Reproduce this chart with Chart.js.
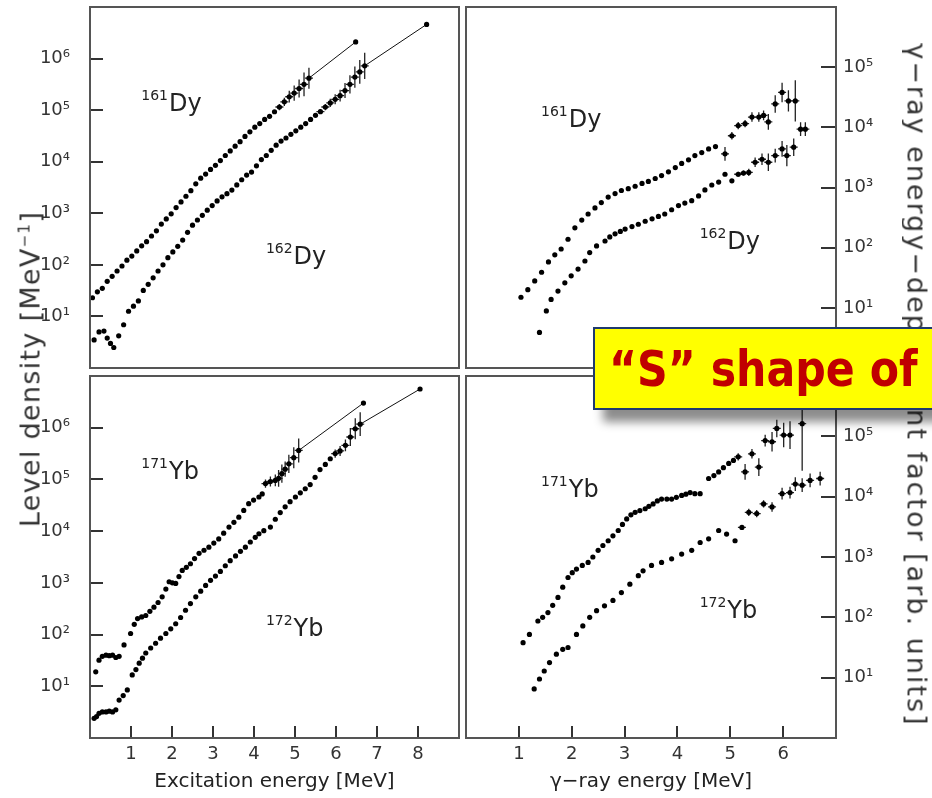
<!DOCTYPE html>
<html>
<head>
<meta charset="utf-8">
<script src="https://cdn.jsdelivr.net/npm/chart.js@4.4.1/dist/chart.umd.min.js"></script>
<style>
  body { margin: 0; width: 932px; height: 798px; overflow: hidden; background: #fff; position: relative; font-family: "DejaVu Sans", sans-serif; }
  canvas { position: absolute; }
  .axis-title { position: absolute; white-space: nowrap; color: #333; font-size: 27px; letter-spacing: 1.3px; }
  .axis-title sup { font-size: 15px; }
  #callout {
    position: absolute; left: 593px; top: 327px; width: 360px; height: 79px;
    background: #ffff00; border: 2px solid #1f3a6e;
    box-shadow: 10px 12px 9px rgba(0,0,0,0.45);
    color: #c00000; font-weight: bold; font-size: 44px; line-height: 79px;
    padding-left: 14px; white-space: nowrap; z-index: 5;
  }
  #callout span { display: inline-block; transform: scale(0.97, 1.12); transform-origin: left center; }
</style>
</head>
<body>
<canvas id="topLeft" width="425" height="372" style="left:40px;top:0px"></canvas>
<canvas id="topRight" width="470" height="372" style="left:462px;top:0px"></canvas>
<canvas id="bottomLeft" width="425" height="426" style="left:40px;top:372px"></canvas>
<canvas id="bottomRight" width="470" height="426" style="left:462px;top:372px"></canvas>

<div class="axis-title" style="left:30px;top:369px;transform:translate(-50%,-50%) rotate(-90deg)">Level density [MeV<sup>−1</sup>]</div>
<div class="axis-title" style="left:917px;top:385px;transform:translate(-50%,-50%) rotate(90deg);letter-spacing:2px">γ−ray energy−dependent factor [arb. units]</div>
<div id="callout"><span>“S” shape of</span></div>

<script>
// ---- level density, Dy (top left) ----
var dy161LdE = [0.06,0.18,0.30,0.42,0.54,0.66,0.78,0.90,1.02,1.14,1.26,1.38,1.50,1.62,1.74,1.86,1.98,2.10,2.22,2.34,2.46,2.58,2.70,2.82,2.94,3.06,3.18,3.30,3.42,3.54,3.66,3.78,3.90,4.02,4.14,4.26,4.38,4.50,4.62,4.74,4.86,4.98,5.10,5.22,5.34];
var dy161LdRho = [23,30,35,48,60,76,95,123,148,186,234,282,363,457,617,776,977,1290,1660,2140,2750,3720,4790,5750,7080,8510,10500,13200,16200,20000,24500,30900,38000,46800,55000,66000,76000,93000,115000,145000,182000,214000,263000,316000,417000];
var dy161LdErr = [1.15,1.2,1.3,1.4,1.5,1.7,1.6];
var dy161LineE = [5.34, 6.48];
var dy161LineRho = [417000, 2100000];

var dy162LdE = [0.10,0.22,0.34,0.42,0.50,0.58,0.70,0.82,0.94,1.06,1.18,1.30,1.42,1.54,1.66,1.78,1.90,2.02,2.14,2.26,2.38,2.50,2.62,2.74,2.86,2.98,3.10,3.22,3.34,3.46,3.58,3.70,3.82,3.94,4.06,4.18,4.30,4.42,4.54,4.66,4.78,4.90,5.02,5.14,5.26,5.38,5.50,5.62,5.74,5.86,5.98,6.10,6.22,6.34,6.46,6.58,6.70];
var dy162LdRho = [3.5,5.0,5.2,3.8,3.0,2.5,4.2,6.9,12.6,15.8,20,32,42,56,76,100,138,178,229,302,427,589,741,912,1150,1410,1740,2090,2400,2820,3550,4470,5500,6310,8320,11000,13200,16600,20900,25100,28800,33900,39800,46800,55000,66000,79400,93300,115000,138000,162000,191000,240000,316000,437000,550000,724000];
var dy162LdErr = [1.1,1.15,1.2,1.25,1.3,1.4,1.5,1.6,1.7,1.8];
var dy162LineE = [6.70, 8.21];
var dy162LineRho = [724000, 4600000];

// ---- gamma strength, Dy (top right) ----
var dy161GsE = [1.04,1.17,1.30,1.43,1.56,1.68,1.80,1.93,2.06,2.19,2.31,2.44,2.56,2.69,2.82,2.94,3.07,3.20,3.33,3.45,3.58,3.70,3.83,3.96,4.08,4.21,4.33,4.46,4.59,4.72,4.90,5.03,5.15,5.28,5.41,5.54,5.63,5.72,5.85,5.98,6.10,6.23,6.33,6.42];
var dy161Gs = [15,20,28,39,58,76,95,138,214,288,363,457,562,692,794,891,955,1050,1170,1260,1410,1580,1820,2140,2510,2880,3390,3800,4370,4790,3630,7240,10700,11500,14800,14800,15800,12300,24500,38000,27500,27500,9330,9330];
var dy161GsErr = [1.3,1.15,1.15,1.15,1.2,1.2,1.2,1.35,1.4,1.45,1.5,2.2,1.3,1.3];

var dy162GsE = [1.39,1.52,1.61,1.74,1.87,1.99,2.12,2.25,2.34,2.47,2.63,2.72,2.82,2.92,3.01,3.14,3.26,3.39,3.52,3.64,3.76,3.89,4.02,4.14,4.27,4.40,4.52,4.65,4.78,4.90,5.03,5.15,5.25,5.35,5.47,5.60,5.72,5.85,5.98,6.07,6.20];
var dy162Gs = [3.9,8.9,13.8,19,26,34,44,60,83,107,129,151,170,186,204,224,245,275,302,331,363,427,501,550,603,724,912,1100,1230,1660,1290,1660,1740,1780,2630,2950,2630,3390,4370,3390,4680];
var dy162GsErr = [1.1,1.1,1.15,1.2,1.25,1.4,1.3,1.35,1.5,1.4];

// ---- level density, Yb (bottom left) ----
var yb171LdE = [0.14,0.22,0.30,0.39,0.47,0.55,0.63,0.71,0.83,0.99,1.08,1.16,1.26,1.36,1.46,1.56,1.66,1.76,1.85,1.93,2.01,2.09,2.17,2.25,2.35,2.45,2.55,2.66,2.78,2.90,3.02,3.14,3.26,3.39,3.51,3.63,3.75,3.87,3.99,4.12,4.20,4.28,4.40,4.52,4.60,4.68,4.76,4.85,4.97,5.09];
var yb171LdRho = [19,32,38,40,39,40,36,38,63,105,158,204,219,234,282,339,417,537,759,1050,1000,977,1320,1740,2000,2340,2950,3720,4270,4900,5890,7080,9120,12000,14800,18600,25100,33900,39800,45700,52500,83200,91200,95500,105000,129000,158000,200000,263000,363000];
var yb171LdErr = [1.2,1.25,1.3,1.45,1.5,1.4,1.5,1.6,1.7];
var yb171LineE = [5.09, 6.67];
var yb171LineRho = [363000, 3000000];

var yb172LdE = [0.10,0.16,0.22,0.30,0.39,0.47,0.55,0.63,0.71,0.81,0.91,1.03,1.12,1.20,1.28,1.36,1.48,1.60,1.72,1.85,1.97,2.09,2.21,2.33,2.45,2.58,2.70,2.82,2.94,3.06,3.18,3.30,3.42,3.55,3.67,3.79,3.91,4.03,4.12,4.24,4.40,4.52,4.64,4.76,4.88,5.01,5.13,5.25,5.37,5.49,5.61,5.74,5.86,5.98,6.10,6.23,6.35,6.47,6.59];
var yb172LdRho = [2.4,2.6,3.0,3.2,3.2,3.3,3.2,3.5,5.4,6.6,8.5,16.6,21,28,35,44,55,68,85,105,129,162,214,295,398,537,692,891,1120,1350,1660,2140,2690,3310,4070,4900,6170,7590,8910,10200,12000,17000,22900,29500,37200,45700,55000,66100,79400,110000,155000,195000,251000,316000,355000,457000,661000,955000,1170000];
var yb172LdErr = [1.2,1.25,1.3,1.5,1.6,1.7];
var yb172LineE = [6.59, 8.05];
var yb172LineRho = [1170000, 5600000];

// ---- gamma strength, Yb (bottom right) ----
var yb171GsE = [1.08,1.20,1.36,1.45,1.55,1.64,1.74,1.83,1.93,2.01,2.09,2.20,2.31,2.40,2.50,2.59,2.69,2.78,2.88,2.96,3.04,3.12,3.20,3.29,3.39,3.46,3.54,3.62,3.70,3.80,3.89,3.98,4.08,4.16,4.24,4.33,4.43,4.59,4.69,4.78,4.87,4.97,5.06,5.15,5.28,5.41,5.54,5.66,5.79,5.88,6.01,6.13,6.36];
var yb171Gs = [38,52,87,100,120,158,214,316,457,550,631,724,813,1000,1290,1550,1860,2240,2750,3470,4270,5010,5500,5890,6310,6920,7590,8510,9120,9120,9120,9770,10500,11000,11700,11200,11200,20000,22400,25700,30200,35500,39800,45700,25700,51300,30900,85100,81300,135000,105000,105000,162000];
var yb171GsErr = [1.15,1.35,1.2,1.4,1.25,1.45,1.4,1.6,1.7,6];

var yb172GsE = [1.29,1.39,1.48,1.58,1.71,1.83,1.93,2.09,2.21,2.34,2.47,2.62,2.78,2.94,3.10,3.26,3.35,3.51,3.70,3.89,4.08,4.27,4.43,4.59,4.78,4.93,5.09,5.22,5.35,5.50,5.63,5.79,5.98,6.13,6.23,6.36,6.51,6.70];
var yb172Gs = [6.5,9.5,12.9,17.8,24.5,29.5,31.6,52,72,100,129,155,191,257,355,490,589,724,813,933,1120,1290,1740,2000,2750,2400,1860,3090,5500,5250,7590,6760,11200,11700,16200,15500,18600,20000];
var yb172GsErr = [1.1,1.15,1.15,1.15,1.2,1.25,1.25,1.3,1.3,1.3,1.3];

// tick values
var ldXTicks = [1,2,3,4,5,6,7,8];
var gsXTicks = [1,2,3,4,5,6];
var ldYTicks = [10,100,1000,10000,100000,1000000];
var gsYTicks = [10,100,1000,10000,100000];

var supDigits = ["⁰","¹","²","³","⁴","⁵","⁶","⁷","⁸","⁹"];

Chart.defaults.font.family = "DejaVu Sans";
Chart.defaults.color = "#333";

function toPoints(xs, ys) {
  return xs.map(function (x, i) { return { x: x, y: ys[i] }; });
}

var panelDecor = {
  id: "panelDecor",
  beforeDatasetsDraw: function (chart, args, opts) {
    var ctx = chart.ctx, area = chart.chartArea;
    var xs = chart.scales.x, ys = chart.scales.y;
    ctx.save();
    ctx.beginPath();
    ctx.rect(area.left, area.top, area.right - area.left, area.bottom - area.top);
    ctx.clip();
    ctx.strokeStyle = "#222";
    ctx.lineWidth = 1.3;
    (opts.errors || []).forEach(function (e) {
      var off = e.x.length - e.err.length;
      e.err.forEach(function (f, i) {
        var v = e.y[off + i];
        var px = xs.getPixelForValue(e.x[off + i]);
        var py = ys.getPixelForValue(v);
        ctx.beginPath();
        ctx.moveTo(px, ys.getPixelForValue(v * f));
        ctx.lineTo(px, ys.getPixelForValue(v / f));
        ctx.moveTo(px - 4, py);
        ctx.lineTo(px + 4, py);
        ctx.stroke();
      });
    });
    ctx.restore();
  },
  afterDraw: function (chart, args, opts) {
    var ctx = chart.ctx, area = chart.chartArea;
    var xs = chart.scales.x, ys = chart.scales.y;
    ctx.save();
    ctx.strokeStyle = "#333";
    ctx.lineWidth = 2;
    // inward tick marks
    if (opts.yTicks) {
      ys.ticks.forEach(function (t) {
        var py = Math.round(ys.getPixelForValue(t.value));
        ctx.beginPath();
        if (opts.yTicks === "left") {
          ctx.moveTo(area.left, py); ctx.lineTo(area.left + 13, py);
        } else {
          ctx.moveTo(area.right - 15, py); ctx.lineTo(area.right, py);
        }
        ctx.stroke();
      });
    }
    if (opts.xTicks) {
      xs.ticks.forEach(function (t) {
        var px = Math.round(xs.getPixelForValue(t.value));
        ctx.beginPath();
        ctx.moveTo(px, area.bottom - 12); ctx.lineTo(px, area.bottom);
        ctx.stroke();
      });
    }
    // frame
    ctx.strokeStyle = "#555";
    ctx.strokeRect(area.left, area.top, area.right - area.left, area.bottom - area.top);
    // isotope labels
    ctx.fillStyle = "#222";
    ctx.textBaseline = "alphabetic";
    (opts.labels || []).forEach(function (l) {
      var px = xs.getPixelForValue(l.x), py = ys.getPixelForValue(l.y);
      ctx.font = "14px DejaVu Sans";
      var w = ctx.measureText(l.mass).width;
      ctx.fillText(l.mass, px, py - 11);
      ctx.font = "24px DejaVu Sans";
      ctx.fillText(l.el, px + w + 1, py);
    });
    ctx.restore();
  }
};

function makePanel(id, cfg) {
  var datasets = [];
  cfg.series.forEach(function (s) {
    datasets.push({
      data: toPoints(s.x, s.y),
      backgroundColor: "#000",
      borderWidth: 0,
      pointRadius: 2.6,
      showLine: false
    });
  });
  (cfg.lines || []).forEach(function (l) {
    datasets.push({
      data: toPoints(l.x, l.y),
      showLine: true,
      borderColor: "#111",
      borderWidth: 1,
      backgroundColor: "#000",
      pointRadius: [0, 2.6],
      pointBorderWidth: 0
    });
  });

  new Chart(document.getElementById(id), {
    type: "scatter",
    data: { datasets: datasets },
    plugins: [panelDecor],
    options: {
      responsive: false,
      animation: false,
      devicePixelRatio: 1,
      layout: { padding: cfg.padding },
      plugins: {
        legend: { display: false },
        tooltip: { enabled: false },
        panelDecor: {
          xTicks: cfg.showX,
          yTicks: cfg.yPos,
          labels: cfg.labels,
          errors: cfg.series.filter(function (s) { return s.err; }).map(function (s) {
            return { x: s.x, y: s.y, err: s.err };
          })
        }
      },
      scales: {
        x: {
          type: "linear",
          min: 0,
          max: cfg.xMax,
          display: cfg.showX,
          grid: { display: false, drawTicks: false },
          border: { display: false },
          ticks: { font: { size: 18 }, color: "#333", padding: 6, autoSkip: false, maxRotation: 0 },
          afterBuildTicks: function (scale) {
            scale.ticks = cfg.xTicks.map(function (v) { return { value: v }; });
          },
          afterFit: function (scale) {
            scale.height = cfg.showX ? 60 : 0;
            scale.paddingLeft = 0;
            scale.paddingRight = 0;
          },
          title: {
            display: !!cfg.xTitle,
            text: cfg.xTitle,
            font: { size: 20 },
            color: "#222",
            padding: { top: 0, bottom: 4 }
          }
        },
        y: {
          type: "logarithmic",
          position: cfg.yPos,
          min: 1,
          max: cfg.yMax,
          grid: { display: false, drawTicks: false },
          border: { display: false },
          ticks: {
            font: { size: 18 },
            color: "#333",
            padding: cfg.yPos === "left" ? 20 : 7,
            autoSkip: false,
            callback: function (v) { return "10" + supDigits[Math.round(Math.log10(v))]; }
          },
          afterBuildTicks: function (scale) {
            scale.ticks = cfg.yTicks.map(function (v) { return { value: v }; });
          },
          afterFit: function (scale) {
            scale.width = cfg.yPos === "left" ? 50 : 96;
            scale.paddingTop = 0;
            scale.paddingBottom = 0;
          }
        }
      }
    }
  });
}

makePanel("topLeft", {
  xMax: 9, yMax: 1e7, xTicks: ldXTicks, yTicks: ldYTicks, yPos: "left", showX: false,
  padding: { top: 7, right: 6, bottom: 4, left: 0 },
  series: [
    { x: dy161LdE, y: dy161LdRho, err: dy161LdErr },
    { x: dy162LdE, y: dy162LdRho, err: dy162LdErr }
  ],
  lines: [
    { x: dy161LineE, y: dy161LineRho },
    { x: dy162LineE, y: dy162LineRho }
  ],
  labels: [
    { mass: "161", el: "Dy", x: 1.25, y: 95000 },
    { mass: "162", el: "Dy", x: 4.29, y: 105 }
  ]
});

makePanel("topRight", {
  xMax: 7, yMax: 1e6, xTicks: gsXTicks, yTicks: gsYTicks, yPos: "right", showX: false,
  padding: { top: 7, right: 0, bottom: 4, left: 3 },
  series: [
    { x: dy161GsE, y: dy161Gs, err: dy161GsErr },
    { x: dy162GsE, y: dy162Gs, err: dy162GsErr }
  ],
  labels: [
    { mass: "161", el: "Dy", x: 1.42, y: 10000 },
    { mass: "162", el: "Dy", x: 4.42, y: 95 }
  ]
});

makePanel("bottomLeft", {
  xMax: 9, yMax: 1e7, xTicks: ldXTicks, yTicks: ldYTicks, yPos: "left", showX: true,
  xTitle: "Excitation energy [MeV]",
  padding: { top: 3, right: 6, bottom: 0, left: 0 },
  series: [
    { x: yb171LdE, y: yb171LdRho, err: yb171LdErr },
    { x: yb172LdE, y: yb172LdRho, err: yb172LdErr }
  ],
  lines: [
    { x: yb171LineE, y: yb171LineRho },
    { x: yb172LineE, y: yb172LineRho }
  ],
  labels: [
    { mass: "171", el: "Yb", x: 1.25, y: 100000 },
    { mass: "172", el: "Yb", x: 4.29, y: 93 }
  ]
});

makePanel("bottomRight", {
  xMax: 7, yMax: 1e6, xTicks: gsXTicks, yTicks: gsYTicks, yPos: "right", showX: true,
  xTitle: "γ−ray energy [MeV]",
  padding: { top: 3, right: 0, bottom: 0, left: 3 },
  series: [
    { x: yb171GsE, y: yb171Gs, err: yb171GsErr },
    { x: yb172GsE, y: yb172Gs, err: yb172GsErr }
  ],
  labels: [
    { mass: "171", el: "Yb", x: 1.42, y: 10000 },
    { mass: "172", el: "Yb", x: 4.42, y: 98 }
  ]
});
</script>
</body>
</html>
